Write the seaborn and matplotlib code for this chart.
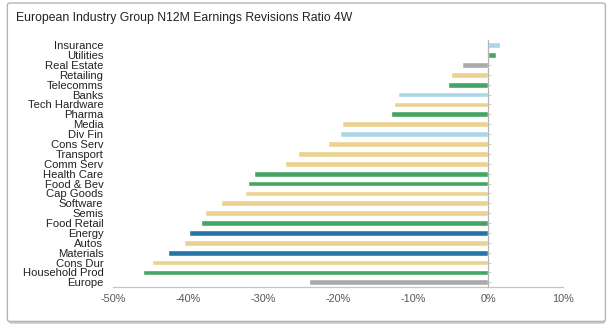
import matplotlib
matplotlib.use("Agg")
import matplotlib.pyplot as plt
from matplotlib.patches import FancyBboxPatch
import seaborn as sns
import pandas as pd

# Earnings revisions ratio (4-week), next-12-month, by European industry group (%)
industries = [
    "Insurance", "Utilities", "Real Estate", "Retailing", "Telecomms", "Banks",
    "Tech Hardware", "Pharma", "Media", "Div Fin", "Cons Serv", "Transport",
    "Comm Serv", "Health Care", "Food & Bev", "Cap Goods", "Software", "Semis",
    "Food Retail", "Energy", "Autos", "Materials", "Cons Dur", "Household Prod",
    "Europe",
]
revisions = [
    1.6, 1.1, -3.5, -5.0, -5.4, -12.0,
    -12.6, -13.0, -19.5, -19.8, -21.4, -25.4,
    -27.0, -31.2, -32.0, -32.4, -35.6, -37.7,
    -38.3, -39.9, -40.5, -42.7, -44.8, -46.0,
    -23.9,
]
groups = [
    "Financials", "Defensives", "Neutral", "Consumer", "Defensives", "Financials",
    "Consumer", "Defensives", "Consumer", "Financials", "Consumer", "Consumer",
    "Consumer", "Defensives", "Defensives", "Consumer", "Consumer", "Consumer",
    "Defensives", "Commodities", "Consumer", "Commodities", "Consumer", "Defensives",
    "Neutral",
]
group_colors = {
    "Financials": "#aad6e6",
    "Defensives": "#45a565",
    "Neutral": "#aaaaaa",
    "Consumer": "#ecd291",
    "Commodities": "#2574a7",
}
x_ticks = [-50, -40, -30, -20, -10, 0, 10]

df = pd.DataFrame({"industry": industries, "revision": revisions, "group": groups})

sns.set_theme(style="white")
plt.rcParams["font.family"] = ["Liberation Sans", "DejaVu Sans"]

fig = plt.figure(figsize=(6.14, 3.31), dpi=100)
fig.patch.set_facecolor("white")

# Framed panel with a soft drop shadow
shadow = FancyBboxPatch((0.014, 0.022), 0.972, 0.962, boxstyle="round,pad=0,rounding_size=0.006",
                        transform=fig.transFigure, facecolor="#c8c8c8", edgecolor="none",
                        zorder=-3)
panel = FancyBboxPatch((0.012, 0.029), 0.974, 0.962, boxstyle="round,pad=0,rounding_size=0.006",
                       transform=fig.transFigure, facecolor="white", edgecolor="#b5b5b5",
                       linewidth=1.0, zorder=-2)
fig.patches.extend([shadow, panel])

ax = fig.add_axes([0.184, 0.132, 0.733, 0.7465])
ax.set_facecolor("none")

sns.barplot(data=df, x="revision", y="industry", hue="group", palette=group_colors,
            dodge=False, legend=False, width=0.58, orient="h", ax=ax, saturation=1)

ax.set_xlim(-50, 10)
ax.set_ylim(len(industries) - 0.5, -0.5)
ax.set_xticks(x_ticks)
ax.set_xticklabels([f"{t}%" for t in x_ticks])
ax.set_xlabel("")
ax.set_ylabel("")

for side in ["top", "right", "left"]:
    ax.spines[side].set_visible(False)
ax.spines["bottom"].set_color("#c4c4c4")
ax.spines["bottom"].set_linewidth(0.9)

ax.tick_params(axis="x", direction="in", length=3, color="#c4c4c4", width=0.8,
               labelsize=7.8, labelcolor="#555555", pad=5)
ax.tick_params(axis="y", length=0, labelsize=8.1, labelcolor="#222222", pad=7)

# Zero reference line with small category ticks
ax.axvline(0, color="#b5b5b5", linewidth=0.9, zorder=3)
zero_axis = ax.secondary_yaxis(50 / 60)
zero_axis.set_yticks(range(len(industries)))
zero_axis.set_yticklabels([])
zero_axis.tick_params(axis="y", direction="out", length=2, color="#c4c4c4", width=0.6)
zero_axis.spines["right"].set_visible(False)
zero_axis.spines["left"].set_visible(False)

fig.text(0.026, 0.945, "European Industry Group N12M Earnings Revisions Ratio 4W",
         fontsize=8.8, color="#222222", va="center", ha="left")

fig.savefig("out.png", dpi=100, facecolor="white")
